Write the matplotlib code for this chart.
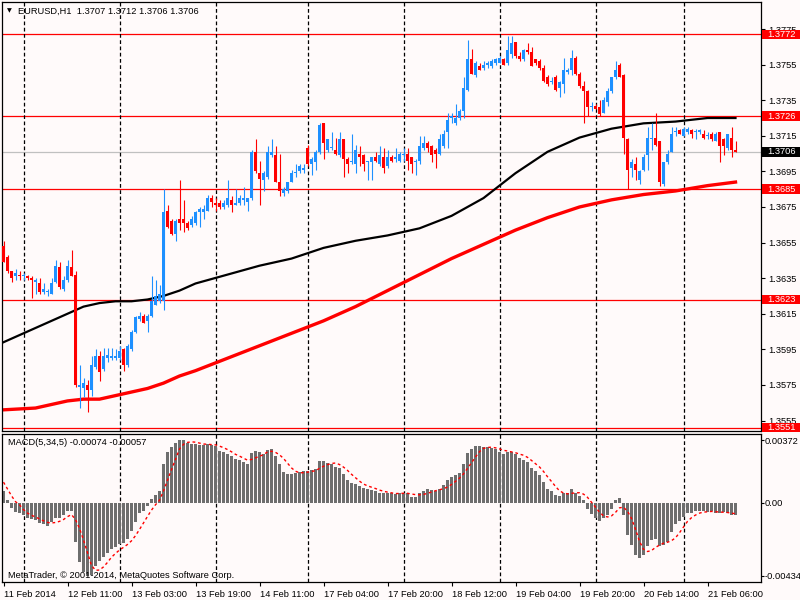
import numpy as np
import pandas as pd
import matplotlib.pyplot as plt
from matplotlib.patches import Rectangle
from matplotlib.transforms import blended_transform_factory

plt.rcParams['font.family'] = ['Liberation Sans', 'DejaVu Sans']

## EURUSD H1 bars (bar 0 = 11 Feb 19:00)
opens = [1.3653, 1.3647, 1.3639, 1.3636, 1.3637, 1.3636, 1.3636, 1.3635, 1.3633, 1.3632,
         1.3627, 1.3627, 1.3626, 1.3633, 1.3641, 1.3629, 1.3634, 1.3641, 1.3637, 1.3574,
         1.3573, 1.3575, 1.3572, 1.3585, 1.3591, 1.3584, 1.3590, 1.3590, 1.3590, 1.3590,
         1.3595, 1.3586, 1.3595, 1.3605, 1.3612, 1.3614, 1.3611, 1.3614, 1.3620, 1.3622,
         1.3622, 1.3673, 1.3667, 1.3660, 1.3668, 1.3668, 1.3666, 1.3665, 1.3666, 1.3672,
         1.3672, 1.3673, 1.3680, 1.3677, 1.3677, 1.3675, 1.3676, 1.3679, 1.3676, 1.3677,
         1.3679, 1.3678, 1.3680, 1.3706, 1.3694, 1.3690, 1.3692, 1.3704, 1.3704, 1.3689,
         1.3683, 1.3684, 1.3689, 1.3694, 1.3695, 1.3696, 1.3708, 1.3699, 1.3700, 1.3706,
         1.3722, 1.3707, 1.3708, 1.3707, 1.3704, 1.3713, 1.3702, 1.3700, 1.3699, 1.3705,
         1.3704, 1.3700, 1.3700, 1.3703, 1.3699, 1.3703, 1.3698, 1.3703, 1.3702, 1.3701,
         1.3704, 1.3705, 1.3703, 1.3700, 1.3701, 1.3708, 1.3711, 1.3709, 1.3707, 1.3705,
         1.3709, 1.3717, 1.3725, 1.3722, 1.3725, 1.3729, 1.3741, 1.3758, 1.3749, 1.3754,
         1.3753, 1.3755, 1.3754, 1.3756, 1.3756, 1.3758, 1.3756, 1.3761, 1.3768, 1.3760,
         1.3758, 1.3763, 1.3762, 1.3758, 1.3757, 1.3753, 1.3748, 1.3745, 1.3748, 1.3742,
         1.3744, 1.3751, 1.3752, 1.3759, 1.3750, 1.3743, 1.3740, 1.3731, 1.3732, 1.3731,
         1.3728, 1.3734, 1.3740, 1.3748, 1.3755, 1.3749, 1.3713, 1.3697, 1.3699, 1.3690,
         1.3696, 1.3704, 1.3713, 1.3714, 1.3712, 1.3688, 1.3700, 1.3706, 1.3717, 1.3718,
         1.3715, 1.3717, 1.3718, 1.3717, 1.3717, 1.3716, 1.3715, 1.3716, 1.3712, 1.3717,
         1.3713, 1.3708, 1.3714, 1.3707]
highs = [1.3656, 1.3648, 1.3639, 1.3640, 1.3639, 1.3638, 1.3637, 1.3636, 1.3635, 1.3635,
         1.3632, 1.3629, 1.3635, 1.3645, 1.3644, 1.3636, 1.3645, 1.3651, 1.3639, 1.3586,
         1.3579, 1.3578, 1.3591, 1.3595, 1.3594, 1.3596, 1.3596, 1.3596, 1.3595, 1.3597,
         1.3596, 1.3598, 1.3606, 1.3614, 1.3616, 1.3615, 1.3615, 1.3636, 1.3634, 1.3631,
         1.3685, 1.3676, 1.3668, 1.3668, 1.3690, 1.3679, 1.3667, 1.3670, 1.3673, 1.3675,
         1.3676, 1.3682, 1.3682, 1.3680, 1.3679, 1.3679, 1.3690, 1.3681, 1.3685, 1.3682,
         1.3686, 1.3680, 1.3707, 1.3713, 1.3701, 1.3695, 1.3709, 1.3713, 1.3709, 1.3705,
         1.3686, 1.3689, 1.3696, 1.3699, 1.3699, 1.3699, 1.3710, 1.3703, 1.3707, 1.3722,
         1.3722, 1.3713, 1.3717, 1.3714, 1.3717, 1.3713, 1.3703, 1.3716, 1.3710, 1.3709,
         1.3705, 1.3701, 1.3703, 1.3706, 1.3709, 1.3708, 1.3707, 1.3704, 1.3708, 1.3706,
         1.3708, 1.3708, 1.3703, 1.3702, 1.3715, 1.3715, 1.3712, 1.3710, 1.3708, 1.3716,
         1.3718, 1.3728, 1.3728, 1.3733, 1.3730, 1.3748, 1.3769, 1.3764, 1.3757, 1.3756,
         1.3757, 1.3757, 1.3758, 1.3759, 1.3760, 1.3759, 1.3771, 1.3771, 1.3768, 1.3762,
         1.3764, 1.3767, 1.3765, 1.3758, 1.3758, 1.3755, 1.3749, 1.3748, 1.3749, 1.3746,
         1.3759, 1.3753, 1.3763, 1.3760, 1.3751, 1.3746, 1.3741, 1.3734, 1.3733, 1.3735,
         1.3737, 1.3742, 1.3748, 1.3757, 1.3756, 1.3750, 1.3714, 1.3702, 1.3703, 1.3696,
         1.3705, 1.3720, 1.3722, 1.3728, 1.3712, 1.3700, 1.3707, 1.3720, 1.3720, 1.3719,
         1.3720, 1.3720, 1.3719, 1.3719, 1.3719, 1.3718, 1.3717, 1.3717, 1.3717, 1.3717,
         1.3714, 1.3716, 1.3720, 1.3712]
lows = [1.3644, 1.3638, 1.3633, 1.3634, 1.3634, 1.3634, 1.3634, 1.3624, 1.3626, 1.3626,
        1.3626, 1.3625, 1.3626, 1.3632, 1.3629, 1.3628, 1.3633, 1.3636, 1.3574, 1.3562,
        1.3568, 1.3560, 1.3569, 1.3584, 1.3577, 1.3583, 1.3588, 1.3589, 1.3589, 1.3589,
        1.3583, 1.3585, 1.3594, 1.3604, 1.3611, 1.3610, 1.3605, 1.3613, 1.3620, 1.3621,
        1.3617, 1.3663, 1.3659, 1.3656, 1.3662, 1.3661, 1.3662, 1.3664, 1.3665, 1.3664,
        1.3668, 1.3673, 1.3675, 1.3673, 1.3674, 1.3674, 1.3675, 1.3672, 1.3676, 1.3676,
        1.3676, 1.3673, 1.3679, 1.3694, 1.3676, 1.3684, 1.3691, 1.3703, 1.3689, 1.3681,
        1.3681, 1.3683, 1.3689, 1.3692, 1.3694, 1.3694, 1.3698, 1.3693, 1.3696, 1.3705,
        1.3702, 1.3706, 1.3707, 1.3704, 1.3703, 1.3692, 1.3694, 1.3699, 1.3694, 1.3698,
        1.3695, 1.3690, 1.3690, 1.3700, 1.3698, 1.3694, 1.3697, 1.3700, 1.3700, 1.3700,
        1.3701, 1.3696, 1.3694, 1.3693, 1.3699, 1.3707, 1.3706, 1.3700, 1.3697, 1.3704,
        1.3708, 1.3708, 1.3722, 1.3721, 1.3724, 1.3725, 1.3740, 1.3750, 1.3748, 1.3752,
        1.3752, 1.3753, 1.3753, 1.3755, 1.3756, 1.3755, 1.3755, 1.3759, 1.3759, 1.3757,
        1.3757, 1.3761, 1.3754, 1.3755, 1.3752, 1.3745, 1.3743, 1.3744, 1.3740, 1.3737,
        1.3739, 1.3750, 1.3749, 1.3749, 1.3742, 1.3722, 1.3726, 1.3729, 1.3730, 1.3726,
        1.3728, 1.3732, 1.3739, 1.3747, 1.3748, 1.3705, 1.3685, 1.3692, 1.3690, 1.3688,
        1.3695, 1.3696, 1.3707, 1.3709, 1.3687, 1.3687, 1.3699, 1.3706, 1.3715, 1.3716,
        1.3715, 1.3716, 1.3714, 1.3713, 1.3716, 1.3713, 1.3713, 1.3712, 1.3712, 1.3700,
        1.3704, 1.3707, 1.3703, 1.3706]
closes = [1.3644, 1.3639, 1.3635, 1.3638, 1.3636, 1.3637, 1.3635, 1.3634, 1.3634, 1.3627,
          1.3629, 1.3628, 1.3632, 1.3642, 1.3630, 1.3634, 1.3642, 1.3636, 1.3575, 1.3575,
          1.3576, 1.3572, 1.3586, 1.3591, 1.3582, 1.3591, 1.3592, 1.3591, 1.3591, 1.3594,
          1.3586, 1.3597, 1.3605, 1.3613, 1.3614, 1.3610, 1.3614, 1.3622, 1.3625, 1.3626,
          1.3672, 1.3664, 1.3660, 1.3667, 1.3666, 1.3666, 1.3663, 1.3668, 1.3672, 1.3674,
          1.3674, 1.3680, 1.3678, 1.3676, 1.3675, 1.3677, 1.3680, 1.3676, 1.3677, 1.3680,
          1.3680, 1.3680, 1.3706, 1.3695, 1.3691, 1.3694, 1.3706, 1.3706, 1.3689, 1.3684,
          1.3685, 1.3689, 1.3694, 1.3694, 1.3698, 1.3697, 1.3699, 1.3702, 1.3706, 1.3721,
          1.3711, 1.3713, 1.3708, 1.3705, 1.3713, 1.3702, 1.3699, 1.3700, 1.3707, 1.3703,
          1.3699, 1.3700, 1.3703, 1.3701, 1.3704, 1.3697, 1.3703, 1.3701, 1.3703, 1.3705,
          1.3704, 1.3701, 1.3699, 1.3700, 1.3709, 1.3711, 1.3708, 1.3704, 1.3705, 1.3713,
          1.3716, 1.3724, 1.3726, 1.3725, 1.3729, 1.3742, 1.3758, 1.3750, 1.3756, 1.3752,
          1.3755, 1.3756, 1.3757, 1.3758, 1.3759, 1.3755, 1.3763, 1.3767, 1.3760, 1.3758,
          1.3763, 1.3762, 1.3754, 1.3756, 1.3753, 1.3746, 1.3744, 1.3746, 1.3741, 1.3745,
          1.3752, 1.3752, 1.3759, 1.3750, 1.3743, 1.3740, 1.3731, 1.3732, 1.3730, 1.3727,
          1.3735, 1.3740, 1.3748, 1.3752, 1.3748, 1.3714, 1.3696, 1.3700, 1.3696, 1.3695,
          1.3703, 1.3714, 1.3714, 1.3710, 1.3689, 1.3700, 1.3705, 1.3716, 1.3717, 1.3716,
          1.3719, 1.3719, 1.3716, 1.3717, 1.3718, 1.3714, 1.3715, 1.3713, 1.3716, 1.3709,
          1.3709, 1.3716, 1.3707, 1.3706]

# moving averages, sampled along the bars
ma_idx = [0, 8, 16, 20, 24, 28, 32, 36, 40, 44, 48, 56, 64, 72, 80, 88, 96, 104,
          112, 120, 128, 136, 144, 152, 160, 168, 176, 183]
ma_black = [1.3599, 1.3607, 1.3615, 1.3619, 1.3621, 1.3622, 1.3622, 1.3623, 1.3625, 1.3628,
            1.3632, 1.3637, 1.3642, 1.3646, 1.3652, 1.3656, 1.3659, 1.3663, 1.3670, 1.3680,
            1.3694, 1.3706, 1.3714, 1.3719, 1.3722, 1.3723, 1.3725, 1.3725]
ma_red = [1.3561, 1.3562, 1.3566, 1.3567, 1.3567, 1.3569, 1.3571, 1.3573, 1.3576, 1.3580,
          1.3583, 1.3590, 1.3597, 1.3604, 1.3611, 1.3619, 1.3628, 1.3637, 1.3646, 1.3654,
          1.3662, 1.3669, 1.3675, 1.3679, 1.3682, 1.3684, 1.3687, 1.3689]

# MACD(5,34,5) histogram
macd = [0.00071, 0.00016, -0.00031, -0.00055, -0.00061, -0.00075, -0.00088, -0.00096, -0.00102, -0.00122,
        -0.00129, -0.00137, -0.00112, -0.00088, -0.00088, -0.00075, -0.00051, -0.00051, -0.00235, -0.00353,
        -0.00414, -0.00434, -0.00428, -0.00377, -0.00347, -0.00320, -0.00300, -0.00275, -0.00265, -0.00245,
        -0.00241, -0.00214, -0.00167, -0.00112, -0.00061, -0.00047, -0.00020, 0.00020, 0.00047, 0.00071,
        0.00231, 0.00300, 0.00333, 0.00357, 0.00372, 0.00372, 0.00357, 0.00349, 0.00347, 0.00345,
        0.00345, 0.00349, 0.00341, 0.00337, 0.00308, 0.00300, 0.00292, 0.00275, 0.00261, 0.00255,
        0.00241, 0.00231, 0.00296, 0.00308, 0.00300, 0.00292, 0.00312, 0.00316, 0.00275, 0.00228,
        0.00184, 0.00173, 0.00173, 0.00177, 0.00182, 0.00186, 0.00188, 0.00194, 0.00202, 0.00249,
        0.00249, 0.00235, 0.00231, 0.00214, 0.00204, 0.00173, 0.00137, 0.00116, 0.00112, 0.00102,
        0.00088, 0.00082, 0.00078, 0.00071, 0.00055, 0.00055, 0.00055, 0.00055, 0.00051, 0.00059,
        0.00059, 0.00055, 0.00035, 0.00031, 0.00055, 0.00071, 0.00084, 0.00078, 0.00067, 0.00084,
        0.00104, 0.00133, 0.00151, 0.00163, 0.00177, 0.00231, 0.00298, 0.00316, 0.00335, 0.00335,
        0.00328, 0.00328, 0.00322, 0.00316, 0.00304, 0.00288, 0.00304, 0.00300, 0.00288, 0.00263,
        0.00255, 0.00241, 0.00208, 0.00190, 0.00167, 0.00122, 0.00084, 0.00067, 0.00043, 0.00037,
        0.00057, 0.00059, 0.00082, 0.00057, 0.00041, 0.00016, -0.00037, -0.00067, -0.00088, -0.00106,
        -0.00092, -0.00071, -0.00035, 0.00016, 0.00029, -0.00073, -0.00190, -0.00249, -0.00308, -0.00326,
        -0.00308, -0.00259, -0.00220, -0.00214, -0.00259, -0.00251, -0.00231, -0.00173, -0.00129, -0.00108,
        -0.00082, -0.00063, -0.00063, -0.00051, -0.00051, -0.00051, -0.00055, -0.00051, -0.00059, -0.00063,
        -0.00055, -0.00063, -0.00071, -0.00074]
signal_head = [0.00122, 0.00082, 0.00041, 0.00006]

levels = [1.3772, 1.3726, 1.3685, 1.3623, 1.3551]
last_price = 1.3706
price_ticks = [1.3775, 1.3755, 1.3735, 1.3715, 1.3695, 1.3675, 1.3655, 1.3635,
               1.3615, 1.3595, 1.3575, 1.3555]
time_idx = [0, 16, 32, 48, 64, 80, 96, 112, 128, 144, 160, 176]
time_labels = ['11 Feb 2014', '12 Feb 11:00', '13 Feb 03:00', '13 Feb 19:00',
               '14 Feb 11:00', '17 Feb 04:00', '17 Feb 20:00', '18 Feb 12:00',
               '19 Feb 04:00', '19 Feb 20:00', '20 Feb 14:00', '21 Feb 06:00']
day_breaks = [5, 29, 53, 76, 100, 124, 148, 170]

BG = '#fffafa'
FS = 6.7
W, H = 800, 600

fig = plt.figure(figsize=(8, 6), dpi=100, facecolor=BG)
# pixel boxes of the two panes
ax = fig.add_axes([2 / W, 1 - 431 / H, 758.7 / W, 429 / H], facecolor=BG)
ax2 = fig.add_axes([2 / W, 1 - 582 / H, 758.7 / W, 148 / H], facecolor=BG)

o, h, l, c = map(np.asarray, (opens, highs, lows, closes))
x = np.arange(len(o))
col = np.where(c >= o, '#1e90ff', '#ff0000')

## main pane
ax.vlines(x, l, h, colors=col, lw=0.8, zorder=3)
ax.bar(x, np.maximum(np.abs(c - o), 0.00006), bottom=np.minimum(o, c), width=0.8,
       color=col, linewidth=0, antialiased=False, zorder=3)
ax.plot(ma_idx, ma_black, color='black', lw=1.6, zorder=2)
ax.plot(ma_idx, ma_red, color='#ff0000', lw=2.4, zorder=2)
for lv in levels:
    ax.axhline(lv, color='#ff0000', lw=0.9, zorder=1)
ax.axhline(last_price, color='#c0c0c0', lw=0.9, zorder=1)

ax.set_xlim(-0.375, 189.3)
ax.set_ylim(1.35491, 1.37902)
ax.set_xticks([])
ax.yaxis.tick_right()
ax.set_yticks(price_ticks)
ax.set_yticklabels(['%.4f' % p for p in price_ticks])
ax.tick_params(axis='y', direction='out', length=3, width=0.8, pad=2.4, labelsize=FS)

# price tags on the right scale
tr = blended_transform_factory(ax.transAxes, ax.transData)
tag_h = 9.5 * (1.37902 - 1.35491) / 429
for lv, fc in [(v, '#ff0000') for v in levels] + [(last_price, 'black')]:
    ax.add_patch(Rectangle((1.0017, lv - tag_h / 2), 0.0525, tag_h, transform=tr,
                           facecolor=fc, edgecolor='none', clip_on=False, zorder=6))
    ax.text(1.0083, lv, '%.4f' % lv, transform=tr, color='white', fontsize=FS,
            va='center', ha='left', clip_on=False, zorder=7)

## MACD pane
ax2.bar(x, macd, width=0.8, color='#6e6e6e', linewidth=0, antialiased=False, zorder=2)
sig = pd.Series(macd).rolling(5).mean().to_numpy()
sig[:4] = signal_head
ax2.plot(x, sig, color='#ff0000', lw=1, linestyle=(0, (2, 2)), zorder=3)
ax2.set_xlim(-0.375, 189.3)
ax2.set_ylim(-0.00471, 0.00408)
ax2.yaxis.tick_right()
ax2.set_yticks([0.00372, 0.0, -0.00434])
ax2.set_yticklabels(['0.00372', '0.00', '-0.00434'])
ax2.tick_params(axis='y', direction='out', length=2, width=0.8, pad=0.6, labelsize=FS)
ax2.set_xticks(time_idx)
ax2.set_xticklabels(time_labels, ha='left')
ax2.tick_params(axis='x', direction='out', length=3, width=0.8, pad=3, labelsize=FS)

for a in (ax, ax2):
    for d in day_breaks:
        a.axvline(d, color='black', lw=0.9, linestyle=(0, (3, 2)), zorder=1)
    for s in a.spines.values():
        s.set_color('black')
        s.set_linewidth(0.9)

# captions
fig.text(9 / W, 1 - 11 / H, '\u25bc', fontsize=4.5, va='center', ha='center',
         family='DejaVu Sans')
fig.text(18.5 / W, 1 - 11 / H, 'EURUSD,H1  1.3707 1.3712 1.3706 1.3706',
         fontsize=FS, va='center', ha='left')
fig.text(7.5 / W, 1 - 442.5 / H, 'MACD(5,34,5) -0.00074 -0.00057',
         fontsize=FS, va='center', ha='left')
fig.text(7.5 / W, 1 - 575 / H, 'MetaTrader, \u00a9 2001-2014, MetaQuotes Software Corp.',
         fontsize=FS, va='center', ha='left')

fig.savefig('out.png', dpi=100, facecolor=BG)
